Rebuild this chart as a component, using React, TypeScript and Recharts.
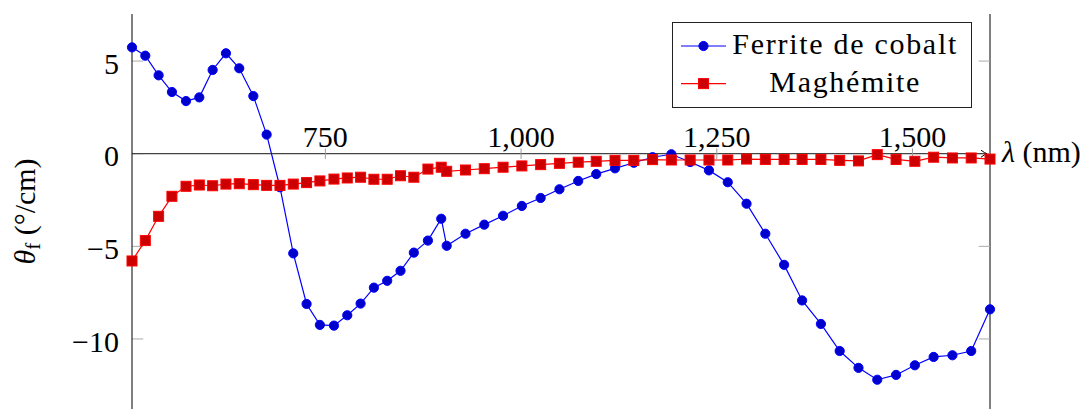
import { LineChart, Line, XAxis, YAxis, ReferenceLine, ReferenceDot } from 'recharts';

// Longueurs d'onde (nm) : visible ~17 nm, puis proche IR ~24 nm
const LAMBDA = [
  503, 520, 537, 554, 572, 589, 606, 623, 640, 658,
  675, 692, 709, 726, 743, 761, 778, 795, 812, 829,
  846, 863, 881, 898, 905, 929, 953, 977, 1001, 1025,
  1049, 1073, 1096, 1120, 1144, 1168, 1192, 1216, 1240, 1264,
  1288, 1312, 1336, 1359, 1383, 1407, 1431, 1455, 1479, 1503,
  1527, 1551, 1575, 1599,
];

// Rotation Faraday (°/cm)
const FERRITE_COBALT = [
  5.74, 5.29, 4.23, 3.33, 2.84, 3.04, 4.52, 5.42, 4.61, 3.11,
  1.03, -1.81, -5.38, -8.11, -9.24, -9.28, -8.72, -8.09, -7.23, -6.86,
  -6.32, -5.34, -4.69, -3.51, -4.97, -4.32, -3.83, -3.35, -2.82, -2.39,
  -1.92, -1.47, -1.1, -0.79, -0.49, -0.19, -0.03, -0.45, -0.9, -1.54,
  -2.7, -4.32, -6.0, -7.92, -9.19, -10.65, -11.56, -12.2, -11.94, -11.42,
  -10.97, -10.88, -10.65, -8.4,
];

const MAGHEMITE = [
  -5.79, -4.69, -3.38, -2.3, -1.76, -1.69, -1.73, -1.64, -1.62, -1.67,
  -1.71, -1.71, -1.64, -1.56, -1.47, -1.37, -1.31, -1.27, -1.38, -1.38,
  -1.19, -1.27, -0.83, -0.73, -0.95, -0.88, -0.81, -0.73, -0.66, -0.59,
  -0.52, -0.46, -0.41, -0.36, -0.36, -0.32, -0.34, -0.34, -0.34, -0.34,
  -0.29, -0.31, -0.31, -0.31, -0.31, -0.36, -0.39, -0.05, -0.31, -0.41,
  -0.19, -0.23, -0.23, -0.29,
];

const X_TICKS = [750, 1000, 1250, 1500];
const Y_TICKS = [-10, -5, 0, 5];

const SERIES = [
  { key: 'cofe', label: 'Ferrite de cobalt', color: '#0000ff', fill: '#0000cc', mark: 'circle', textLen: 224 },
  { key: 'magh', label: 'Maghémite', color: '#ff0000', fill: '#cc0000', mark: 'square', textLen: 150 },
];

const FONT = 'Liberation Serif, DejaVu Serif, serif';
const X_MIN = LAMBDA[0];
const X_MAX = LAMBDA[LAMBDA.length - 1];

const donnees = LAMBDA.map((l, i) => ({ lambda: l, cofe: FERRITE_COBALT[i], magh: MAGHEMITE[i] }));

const moins = (v: number) => (v < 0 ? '\u2212' + Math.abs(v) : String(v));
const milliers = (v: number) => String(v).replace(/\B(?=(\d{3})+(?!\d))/g, ',');

const Carre = (props: any) => {
  const { cx, cy, index } = props;
  if (cx == null || cy == null) return <g key={`c-${index}`} />;
  return (
    <rect key={`c-${index}`} x={cx - 5} y={cy - 5} width={10} height={10}
      fill="#cc0000" stroke="#ff0000" strokeWidth={1} />
  );
};

// Axe des abscisses à y = 0 avec flèche
const AxeFleche = (props: any) => {
  const { x1, y1, x2 } = props;
  const tip = x2 - 3;
  return (
    <g>
      <line x1={x1} y1={y1} x2={tip} y2={y1} stroke="#444" strokeWidth={1.2} />
      <path d={`M${tip - 6},${y1 - 3.5} Q${tip - 2},${y1 - 0.5} ${tip},${y1} Q${tip - 2},${y1 + 0.5} ${tip - 6},${y1 + 3.5}`}
        fill="none" stroke="#000" strokeWidth={1} />
    </g>
  );
};

const EtiquetteY = (props: any) => {
  const vb = props.viewBox;
  const cx = 35;
  const cy = vb ? vb.y + vb.height / 2 : 211;
  return (
    <text x={cx} y={cy} transform={`rotate(-90, ${cx}, ${cy})`} textAnchor="middle"
      style={{ fontFamily: FONT }} fontSize={30} fill="#000">
      <tspan fontStyle="italic">θ</tspan>
      <tspan fontSize={21} dy={5}>f</tspan>
      <tspan dy={-5}> (°/cm)</tspan>
    </text>
  );
};

const EtiquetteX = (props: any) => {
  const vb = props.viewBox;
  return (
    <text x={vb.x + 12} y={vb.y + 8} style={{ fontFamily: FONT }} fontSize={30} fill="#000">
      <tspan fontStyle="italic">λ</tspan> (nm)
    </text>
  );
};

const etiquetteTick = (t: number) => (props: any) => {
  const vb = props.viewBox;
  return (
    <text x={vb.x} y={vb.y - 7} textAnchor="middle" style={{ fontFamily: FONT }} fontSize={30} fill="#000">
      {milliers(t)}
    </text>
  );
};

const Legende = () => (
  <svg width={300} height={87} style={{ display: 'block', position: 'absolute', left: 672, top: 22 }}>
    <rect x={0.5} y={0.5} width={299} height={85} fill="#fff" stroke="#222" strokeWidth={1} />
    {SERIES.map((s, i) => {
      const cy = i === 0 ? 24 : 61.6;
      const base = i === 0 ? 31.6 : 70;
      return (
        <g key={s.key}>
          <line x1={9} x2={54} y1={cy} y2={cy} stroke={s.color} strokeWidth={1.2} />
          {s.mark === 'circle'
            ? <circle cx={31.5} cy={cy} r={4.6} fill={s.fill} stroke={s.color} />
            : <rect x={26.5} y={cy - 5} width={10} height={10} fill={s.fill} stroke={s.color} />}
          <text x={172.3} y={base} textAnchor="middle" style={{ fontFamily: FONT }} fontSize={30} fill="#000"
            textLength={s.textLen} lengthAdjust="spacing">
            {s.label}
          </text>
        </g>
      );
    })}
  </svg>
);

export default function App() {
  return (
    <div style={{ position: 'absolute', left: 0, top: 0, width: 1092, height: 409, background: '#fff', fontFamily: FONT }}>
      <LineChart width={1092} height={409} data={donnees} margin={{ top: 14, right: 102, bottom: 0, left: 0 }}>
        <XAxis type="number" dataKey="lambda" domain={[X_MIN, X_MAX]} hide />
        <YAxis
          type="number"
          domain={[-13.78, 7.54]}
          ticks={Y_TICKS}
          interval={0}
          width={132}
          axisLine={{ stroke: '#000', strokeWidth: 1 }}
          tickLine={false}
          tickSize={0}
          tickMargin={13}
          tickFormatter={moins}
          tick={{ fill: '#000', fontSize: 30, style: { fontFamily: FONT }, dy: 2 }}
          label={EtiquetteY}
        />

        {/* bord droit et graduations intérieures */}
        <ReferenceLine x={X_MAX} stroke="#000" strokeWidth={1} />
        {Y_TICKS.map((v) => (
          <ReferenceLine key={`gl-${v}`} segment={[{ x: X_MIN, y: v }, { x: X_MIN + 14.4, y: v }]} stroke="#aaa" />
        ))}
        {Y_TICKS.map((v) => (
          <ReferenceLine key={`gr-${v}`} segment={[{ x: X_MAX - 14.4, y: v }, { x: X_MAX, y: v }]} stroke="#aaa" />
        ))}

        {/* axe lambda à y = 0 */}
        <ReferenceLine y={0} shape={AxeFleche} />
        {X_TICKS.map((t) => (
          <ReferenceLine key={`gx-${t}`} segment={[{ x: t, y: -0.28 }, { x: t, y: 0.28 }]} stroke="#999" />
        ))}
        {X_TICKS.map((t) => (
          <ReferenceDot key={`lx-${t}`} x={t} y={0} r={0} stroke="none" fill="none" label={etiquetteTick(t)} />
        ))}
        <ReferenceDot x={X_MAX} y={0} r={0} stroke="none" fill="none" label={EtiquetteX} />

        <Line type="linear" dataKey="cofe" name="Ferrite de cobalt" stroke="#0000ff" strokeWidth={1.2}
          dot={{ r: 4.6, fill: '#0000cc', stroke: '#0000ff', strokeWidth: 1 }} activeDot={false}
          isAnimationActive={false} />
        <Line type="linear" dataKey="magh" name="Maghémite" stroke="#ff0000" strokeWidth={1.2}
          dot={Carre} activeDot={false} isAnimationActive={false} />
      </LineChart>
      <Legende />
    </div>
  );
}
